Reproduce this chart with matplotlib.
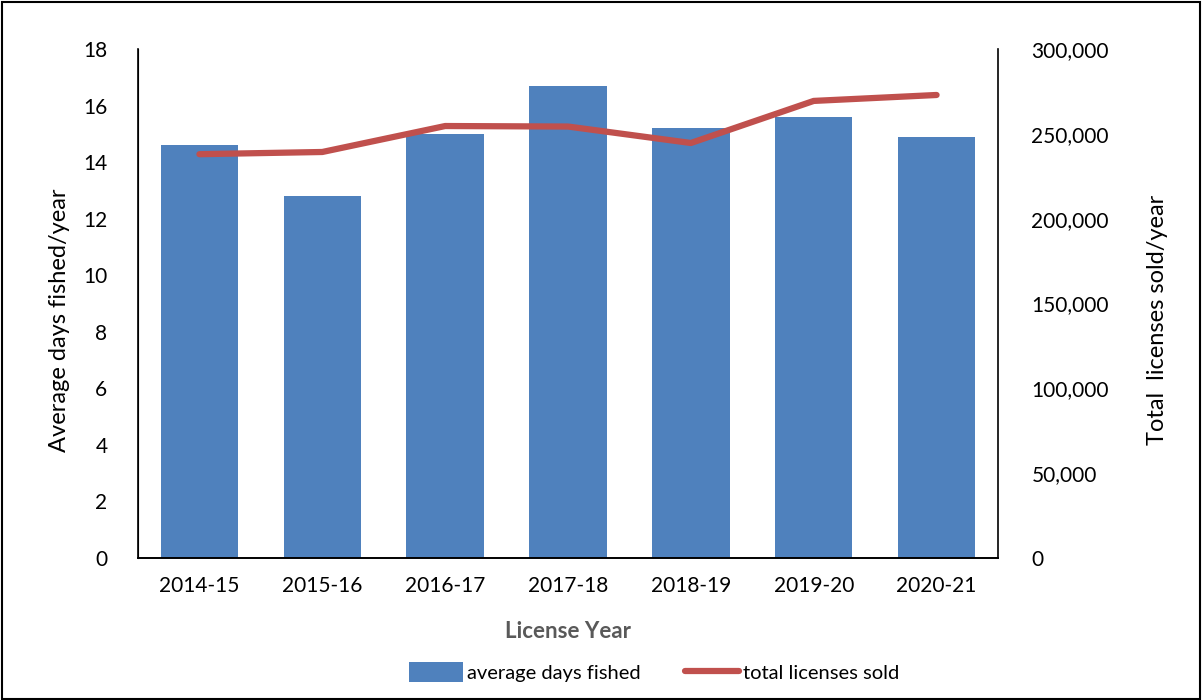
import matplotlib.pyplot as plt
from matplotlib.ticker import FuncFormatter
from matplotlib.patches import Rectangle

# values
years = ["2014-15", "2015-16", "2016-17", "2017-18", "2018-19", "2019-20", "2020-21"]
avg_days = [14.6, 12.8, 15.0, 16.7, 15.2, 15.6, 14.9]
licenses = [238000, 239300, 254600, 254300, 244600, 269400, 272900]

plt.rcParams['font.family'] = ['Lato', 'DejaVu Sans']

W, H = 1203, 700
fig = plt.figure(figsize=(W / 100, H / 100), dpi=100)
ax = fig.add_axes([138/W, 1-558/H, (998-138)/W, (558-49)/H])
ax2 = ax.twinx()

x = range(len(years))
b = ax.bar(x, avg_days, width=0.63, color="#4F81BD", zorder=2)
l, = ax2.plot(x, licenses, color="#C0504D", lw=4.5, solid_capstyle="round", zorder=3)

ax.set_xlim(-0.5, len(years) - 0.5)
ax.set_ylim(0, 18)
ax.set_yticks(range(0, 19, 2))
ax2.set_ylim(0, 300000)
ax2.set_yticks(range(0, 300001, 50000))
ax2.yaxis.set_major_formatter(FuncFormatter(lambda v, p: f"{int(v):,}"))

ax.set_xticks(list(x))
ax.set_xticklabels(years)
for a in (ax, ax2):
    a.tick_params(axis="both", length=0, labelsize=15, colors="black")
    a.spines["top"].set_visible(False)
ax.tick_params(axis="y", pad=22)
ax2.tick_params(axis="y", pad=24)
ax.tick_params(axis="x", pad=13)
for s in ("left", "right", "bottom"):
    ax2.spines[s].set_linewidth(1.2)
ax.spines["bottom"].set_linewidth(1.2)
ax.spines["right"].set_visible(False)

# axis titles placed like the Excel original
fig.text(60/W, 1-320/H, "Average days fished/year", rotation=90, ha="center", va="center", fontsize=17)
fig.text(1157/W, 1-320/H, "Total  licenses sold/year", rotation=90, ha="center", va="center", fontsize=17)
fig.text(568/W, 1-632/H, "License Year", ha="center", va="center", fontsize=16,
         fontweight="bold", color="#595959")

fig.legend([b, l], ["average days fished", "total licenses sold"], loc="center",
           bbox_to_anchor=(654/W, 1 - 672/H), ncol=2, frameon=False, fontsize=14.5,
           handlelength=2.7, handleheight=1.1, columnspacing=2.2, handletextpad=0.2)

fig.patches.append(Rectangle((2/W, 1/H), (W-5)/W, (H-3)/H, transform=fig.transFigure,
                             fill=False, edgecolor="black", lw=1.5))

fig.savefig("out.png", dpi=100)
